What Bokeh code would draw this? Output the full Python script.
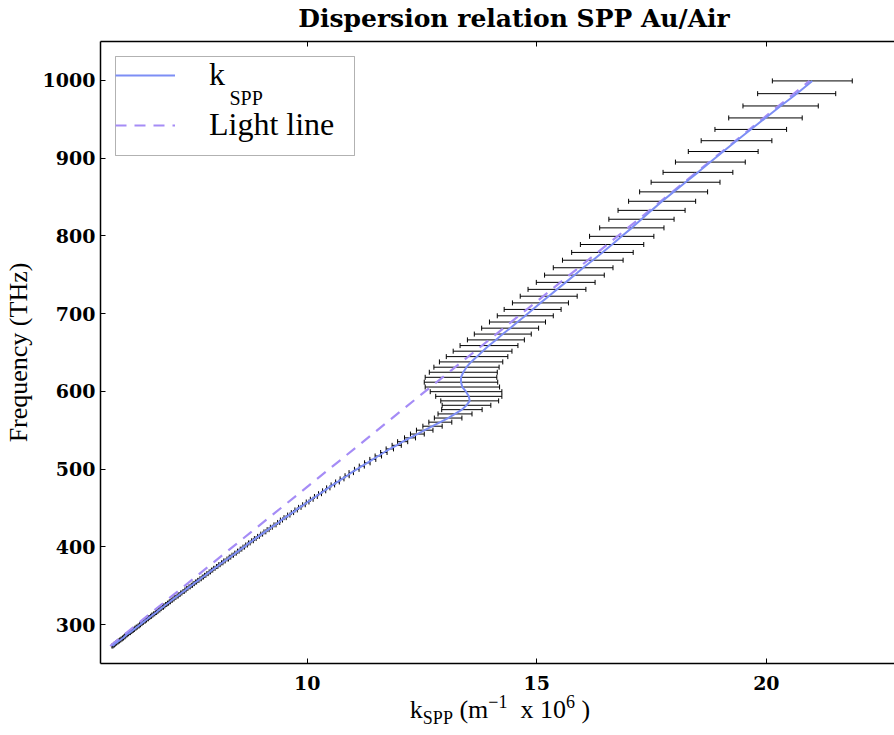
from bokeh.plotting import figure
from bokeh.layouts import column
from bokeh.models import (Range1d, LinearAxis, FixedTicker, ColumnDataSource, Whisker,
                          TeeHead, Legend, LegendItem, BoxAnnotation, Div)
from bokeh.core.properties import value
from bokeh.embed import file_html
from bokeh.resources import INLINE

# ---------------- data ----------------
# frequency of each sample (THz)
freq_thz = [
    999.3, 982.9, 967.1, 951.7, 936.9, 922.4, 908.5, 894.9, 881.7, 869.0,
    856.6, 844.5, 832.8, 821.4, 810.3, 799.4, 788.9, 778.7, 768.7, 759.0,
    749.5, 740.2, 731.2, 722.4, 713.8, 705.4, 697.2, 689.2, 681.3, 673.7,
    666.2, 658.9, 651.7, 644.7, 637.9, 631.1, 624.6, 618.1, 611.8, 605.6,
    599.6, 593.6, 587.8, 582.1, 576.5, 571.0, 565.7, 560.4, 555.2, 550.1,
    545.1, 540.2, 535.3, 530.6, 526.0, 521.4, 516.9, 512.5, 508.1, 503.9,
    499.7, 495.5, 491.5, 487.5, 483.5, 479.7, 475.9, 472.1, 468.4, 464.8,
    461.2, 457.7, 454.2, 450.8, 447.5, 444.1, 440.9, 437.6, 434.5, 431.4,
    428.3, 425.2, 422.2, 419.3, 416.4, 413.5, 410.7, 407.9, 405.1, 402.4,
    399.7, 397.1, 394.5, 391.9, 389.3, 386.8, 384.4, 381.9, 379.5, 377.1,
    374.7, 372.4, 370.1, 367.8, 365.6, 363.4, 361.2, 359.0, 356.9, 354.8,
    352.7, 350.6, 348.6, 346.6, 344.6, 342.6, 340.7, 338.7, 336.8, 335.0,
    333.1, 331.3, 329.4, 327.6, 325.9, 324.1, 322.4, 320.6, 318.9, 317.2,
    315.6, 313.9, 312.3, 310.7, 309.1, 307.5, 305.9, 304.4, 302.8, 301.3,
    299.8, 298.3, 296.8, 295.4, 293.9, 292.5, 291.1, 289.7, 288.3, 286.9,
    285.5, 284.2, 282.8, 281.5, 280.2, 278.9, 277.6, 276.3, 275.0, 273.8,
    272.5,
]

# real part of k_SPP (1e6 / m)
k_spp = [
    21.00, 20.66, 20.31, 19.98, 19.66, 19.35, 19.06, 18.78, 18.51, 18.24,
    17.98, 17.73, 17.50, 17.28, 17.07, 16.85, 16.64, 16.43, 16.22, 16.01,
    15.82, 15.63, 15.44, 15.26, 15.08, 14.91, 14.75, 14.58, 14.42, 14.26,
    14.11, 13.96, 13.82, 13.70, 13.57, 13.47, 13.40, 13.35, 13.35, 13.38,
    13.46, 13.52, 13.54, 13.47, 13.37, 13.22, 13.07, 12.90, 12.73, 12.56,
    12.40, 12.24, 12.08, 11.95, 11.80, 11.67, 11.55, 11.43, 11.31, 11.19,
    11.08, 10.96, 10.87, 10.76, 10.66, 10.56, 10.46, 10.37, 10.28, 10.19,
    10.10, 10.01, 9.93, 9.84, 9.76, 9.68, 9.60, 9.52, 9.44, 9.38,
    9.30, 9.22, 9.15, 9.08, 9.01, 8.94, 8.87, 8.81, 8.74, 8.68,
    8.62, 8.56, 8.50, 8.44, 8.38, 8.32, 8.27, 8.20, 8.15, 8.09,
    8.04, 7.98, 7.93, 7.88, 7.83, 7.78, 7.73, 7.68, 7.63, 7.58,
    7.53, 7.49, 7.44, 7.39, 7.35, 7.31, 7.26, 7.22, 7.18, 7.13,
    7.09, 7.05, 7.01, 6.97, 6.93, 6.89, 6.86, 6.81, 6.78, 6.74,
    6.71, 6.67, 6.63, 6.60, 6.56, 6.53, 6.49, 6.46, 6.42, 6.39,
    6.36, 6.33, 6.29, 6.26, 6.23, 6.20, 6.17, 6.14, 6.10, 6.07,
    6.04, 6.02, 5.99, 5.96, 5.93, 5.90, 5.87, 5.84, 5.81, 5.79,
    5.76,
]

# half width of each horizontal error bar (1e6 / m)
k_err = [
    0.87, 0.85, 0.82, 0.80, 0.78, 0.77, 0.76, 0.76, 0.76, 0.75,
    0.74, 0.73, 0.73, 0.71, 0.70, 0.70, 0.69, 0.67, 0.66, 0.65,
    0.65, 0.64, 0.63, 0.62, 0.61, 0.62, 0.61, 0.61, 0.62, 0.62,
    0.62, 0.63, 0.64, 0.67, 0.69, 0.71, 0.74, 0.78, 0.80, 0.81,
    0.78, 0.72, 0.63, 0.53, 0.44, 0.37, 0.30, 0.25, 0.21, 0.18,
    0.15, 0.12, 0.11, 0.10, 0.08, 0.07, 0.07, 0.065, 0.06, 0.055,
    0.050, 0.048, 0.045, 0.042, 0.040, 0.038, 0.036, 0.034, 0.032, 0.031,
    0.030, 0.029, 0.028, 0.027, 0.026, 0.025, 0.025, 0.024, 0.023, 0.023,
    0.022, 0.021, 0.021, 0.020, 0.020, 0.019, 0.019, 0.018, 0.018, 0.018,
    0.017, 0.017, 0.017, 0.016, 0.016, 0.016, 0.016, 0.015, 0.015, 0.015,
    0.015, 0.015, 0.014, 0.014, 0.014, 0.014, 0.014, 0.014, 0.013, 0.013,
    0.013, 0.013, 0.013, 0.013, 0.013, 0.013, 0.013, 0.012, 0.012, 0.012,
    0.012, 0.012, 0.012, 0.012, 0.012, 0.012, 0.012, 0.012, 0.012, 0.012,
    0.012, 0.012, 0.012, 0.012, 0.012, 0.012, 0.012, 0.012, 0.012, 0.012,
    0.011, 0.011, 0.011, 0.011, 0.011, 0.011, 0.011, 0.011, 0.011, 0.011,
    0.011, 0.011, 0.011, 0.011, 0.011, 0.011, 0.011, 0.011, 0.011, 0.011,
    0.011,
]

# light line (k0 = omega / c)
light_freq = [272.5, 400.0, 500.0, 600.0, 700.0, 800.0, 900.0, 999.3]
light_k = [5.71, 8.38, 10.48, 12.57, 14.67, 16.77, 18.86, 20.94]

x_ticks = [10, 15, 20]
y_ticks = [300, 400, 500, 600, 700, 800, 900, 1000]

# ---------------- page geometry ----------------
TITLE_H = 36          # title strip above the plot
FIG_H = 663           # plot canvas
XLAB_H = 735 - TITLE_H - FIG_H

X0, X1 = 5.5, 22.79
Y0, Y1 = 250, 1050
PPX = 794 / (X1 - X0)      # screen px per x unit
PPY = 622 / (Y1 - Y0)      # screen px per y unit

title = Div(
    text=('<div style="width:784px;margin-left:122px;padding-top:6px;text-align:center;'
          'font-family:\'DejaVu Serif\',serif;font-weight:bold;font-size:25px;'
          'line-height:25px;color:black;white-space:nowrap;">'
          'Dispersion relation SPP Au/Air</div>'),
    width=894, height=TITLE_H, margin=0)

p = figure(width=894, height=FIG_H, output_backend="svg", toolbar_location=None,
           x_range=Range1d(X0, X1), y_range=Range1d(Y0, Y1),
           min_border_left=100, min_border_right=0, min_border_top=41 - TITLE_H,
           min_border_bottom=36)
p.title.standoff = 0
p.outline_line_color = None
p.xgrid.visible = False
p.ygrid.visible = False
p.background_fill_color = "white"
p.border_fill_color = "white"

def style_axis(ax):
    ax.axis_line_color = "black"
    ax.axis_line_width = 1.5
    ax.major_tick_in = 5
    ax.major_tick_out = 0
    ax.major_tick_line_color = "black"
    ax.major_tick_line_width = 1
    ax.minor_tick_line_color = None
    ax.major_label_text_font = "DejaVu Serif"
    ax.major_label_text_font_style = "bold"
    ax.major_label_text_font_size = "19px"
    ax.major_label_text_color = "black"

style_axis(p.xaxis[0])
style_axis(p.yaxis[0])
p.xaxis[0].ticker = FixedTicker(ticks=x_ticks)
p.yaxis[0].ticker = FixedTicker(ticks=y_ticks)
p.xaxis[0].major_label_standoff = 12
p.yaxis[0].major_label_standoff = 5

p.yaxis[0].axis_label = "Frequency (THz)"
p.yaxis[0].axis_label_text_font = "Liberation Serif"
p.yaxis[0].axis_label_text_font_style = "normal"
p.yaxis[0].axis_label_text_font_size = "26px"
p.yaxis[0].axis_label_text_color = "black"
p.yaxis[0].axis_label_standoff = 7

top_axis = LinearAxis(ticker=FixedTicker(ticks=x_ticks))
style_axis(top_axis)
top_axis.major_label_text_font_size = "2px"
top_axis.major_label_text_color = None
top_axis.major_label_standoff = 0
p.add_layout(top_axis, "above")

# ---------------- legend frame (drawn under everything) ----------------
p.add_layout(BoxAnnotation(left=X0 + 15 / PPX, right=X0 + 254 / PPX,
                           top=Y1 - 15 / PPY, bottom=Y1 - 114 / PPY,
                           fill_color="white", fill_alpha=1.0,
                           line_color="black", line_width=1, level="underlay"))

# ---------------- error bars ----------------
lo = [k - e for k, e in zip(k_spp, k_err)]
hi = [k + e for k, e in zip(k_spp, k_err)]
src = ColumnDataSource(dict(f=freq_thz, k=k_spp, lo=lo, hi=hi))
wh = Whisker(source=src, base="f", lower="lo", upper="hi", dimension="width",
             line_color="black", line_width=1,
             lower_head=TeeHead(size=5, line_color="black", line_width=1),
             upper_head=TeeHead(size=5, line_color="black", line_width=1))
p.add_layout(wh)

# ---------------- lines ----------------
r_light = p.line(light_k, light_freq, line_color="#a58cf6", line_width=2.2,
                 line_dash="11 8")
r_spp = p.line("k", "f", source=src, line_color="#7d8ef5", line_width=2.0)

legend = Legend(items=[LegendItem(label="k", renderers=[r_spp]),
                       LegendItem(label="Light line", renderers=[r_light])],
                location="top_left", margin=15, padding=16, spacing=13,
                glyph_width=60, glyph_height=30, label_height=30,
                label_standoff=34, label_text_color="black",
                label_text_font="Liberation Serif", label_text_font_size="32px",
                border_line_color=None, background_fill_alpha=0.0)
p.add_layout(legend)

# subscript of the legend entry "k_SPP"
sub_src = ColumnDataSource(dict(x=[X0 + 129 / PPX], y=[Y1 - 56 / PPY], t=["SPP"]))
p.text(x="x", y="y", text="t", source=sub_src, text_font=value("Liberation Serif"),
       text_font_size=value("20px"), text_baseline=value("alphabetic"),
       text_align=value("left"), text_color="black")

# ---------------- x axis label (HTML text with sub/superscripts) ----------------
small = 'font-size:18px;line-height:0;'
xlabel = Div(
    text=('<div style="width:784px;margin-left:108px;padding-top:0px;text-align:center;'
          'font-family:\'Liberation Serif\',serif;font-size:26px;line-height:22px;'
          'color:black;white-space:nowrap;">'
          'k<sub style="' + small + '">SPP</sub> (m<sup style="' + small + '">'
          '\u22121</sup>&nbsp; x 10<sup style="' + small + '">6</sup> )</div>'),
    width=894, height=XLAB_H, margin=0)

layout = column(title, p, xlabel, spacing=0)
open("out.html", "w").write(file_html(layout, INLINE))
